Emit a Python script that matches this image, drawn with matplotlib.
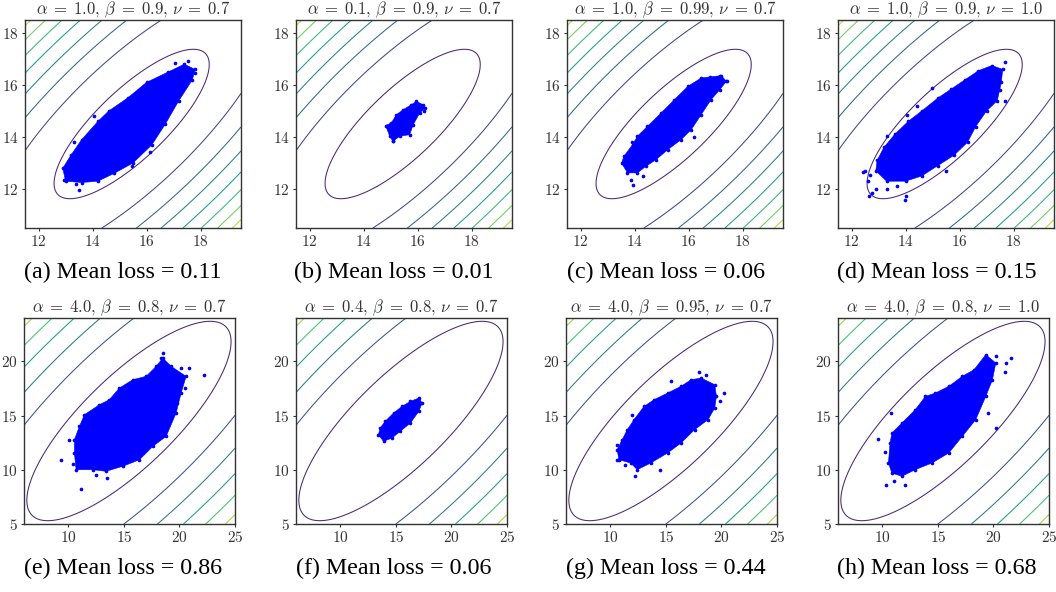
import numpy as np
import matplotlib
matplotlib.use("Agg")
import matplotlib.pyplot as plt
from matplotlib.patches import Polygon
from matplotlib.ticker import FuncFormatter

plt.rcParams["mathtext.fontset"] = "cm"

# panel texts
titles = [
    r"$\alpha\;=\;1.0,\,\beta\;=\;0.9,\,\nu\;=\;0.7$",
    r"$\alpha\;=\;0.1,\,\beta\;=\;0.9,\,\nu\;=\;0.7$",
    r"$\alpha\;=\;1.0,\,\beta\;=\;0.99,\,\nu\;=\;0.7$",
    r"$\alpha\;=\;1.0,\,\beta\;=\;0.9,\,\nu\;=\;1.0$",
    r"$\alpha\;=\;4.0,\,\beta\;=\;0.8,\,\nu\;=\;0.7$",
    r"$\alpha\;=\;0.4,\,\beta\;=\;0.8,\,\nu\;=\;0.7$",
    r"$\alpha\;=\;4.0,\,\beta\;=\;0.95,\,\nu\;=\;0.7$",
    r"$\alpha\;=\;4.0,\,\beta\;=\;0.8,\,\nu\;=\;1.0$",
]
letters = ["a", "b", "c", "d", "e", "f", "g", "h"]
mean_loss = [0.11, 0.01, 0.06, 0.15, 0.86, 0.06, 0.44, 0.68]

# loss surface: f = v^2 + k*u^2 in coordinates rotated by 45 degrees
center = (15.45, 14.5)
k_major = 0.114
row_xlim = [(11.5, 19.5), (6, 25)]
row_ylim = [(10.5, 18.5), (5, 24)]
row_xticks = [[12, 14, 16, 18], [10, 15, 20, 25]]
row_yticks = [[12, 14, 16, 18], [5, 10, 15, 20]]
row_levels = [
    [1.69, 5.68, 9.55, 13.45, 17.65, 21.75, 25.85, 29.9, 34.0],
    [17.3, 46.5, 75.5, 105.0, 135.0, 165.4, 195.5],
]

# sample clouds: outline of the dense part, plus stray points
cloud_a = [(12.9, 12.8), (13.0, 12.3), (13.6, 12.25), (14.2, 12.3), (14.8, 12.6), (15.5, 13.0),
           (16.2, 13.7), (16.7, 14.5), (17.2, 15.4), (17.7, 16.2), (17.8, 16.6), (17.4, 16.8),
           (16.8, 16.5), (16.0, 16.1), (15.3, 15.5), (14.6, 15.0), (14.2, 14.6), (13.6, 13.9),
           (13.2, 13.3)]
extra_a = [(12.94, 12.34), (13.5, 11.96), (13.4, 12.18), (17.05, 16.83), (17.52, 16.92),
           (17.79, 16.47), (14.07, 14.82), (13.31, 13.8), (16.13, 13.42), (15.46, 12.9)]

cloud_b = [(14.82, 14.44), (14.97, 14.03), (15.09, 13.83), (15.34, 14.03), (15.71, 14.09),
           (15.84, 14.47), (16.08, 14.92), (16.29, 15.12), (16.21, 15.24), (15.96, 15.37),
           (15.77, 15.24), (15.47, 15.05), (15.22, 14.86), (15.03, 14.54)]
extra_b = [(16.25, 15.0), (15.1, 13.85)]

cloud_c = [(13.52, 13.0), (13.74, 12.62), (14.11, 12.62), (14.42, 12.87), (14.8, 13.13),
           (15.23, 13.51), (15.73, 13.9), (16.1, 14.28), (16.47, 14.86), (16.84, 15.44),
           (17.16, 15.82), (17.4, 16.14), (17.22, 16.36), (16.78, 16.31), (16.47, 16.27),
           (15.98, 15.95), (15.48, 15.44), (14.98, 14.92), (14.48, 14.41), (14.11, 14.03),
           (13.93, 13.71), (13.61, 13.26)]
extra_c = [(13.93, 12.17), (13.86, 12.36), (13.68, 12.87), (17.16, 16.33), (17.43, 16.14),
           (14.3, 12.5), (13.9, 13.8), (16.9, 16.0), (16.2, 14.0)]

cloud_d = [(12.9, 12.7), (13.3, 12.3), (14.0, 12.3), (14.6, 12.5), (15.2, 12.9), (15.8, 13.3),
           (16.3, 13.8), (16.6, 14.4), (17.0, 15.0), (17.4, 15.4), (17.55, 16.1), (17.6, 16.6),
           (17.2, 16.75), (16.7, 16.55), (16.2, 16.2), (15.7, 15.85), (15.2, 15.5), (14.6, 15.0),
           (14.1, 14.6), (13.6, 14.1), (13.2, 13.6), (12.95, 13.1)]
extra_d = [(12.43, 12.64), (12.5, 12.7), (12.64, 11.72), (12.75, 11.85), (12.6, 12.3),
           (12.9, 12.0), (13.3, 12.0), (13.98, 11.59), (14.0, 11.75), (13.7, 12.1),
           (12.7, 12.55), (14.97, 15.88), (14.41, 15.21), (14.04, 14.86), (17.69, 16.87),
           (17.51, 15.82), (17.7, 15.4), (13.3, 14.05), (15.5, 12.7)]

cloud_e = [(10.54, 11.55), (10.69, 10.01), (12.19, 10.01), (13.39, 9.86), (14.89, 10.32),
           (16.4, 10.93), (17.6, 12.16), (18.8, 13.08), (19.7, 15.24), (20.15, 17.08),
           (20.6, 18.62), (19.25, 19.54), (18.5, 20.3), (17.9, 19.54), (17.0, 18.62),
           (15.8, 18.31), (14.59, 17.54), (13.69, 16.47), (12.79, 16.0), (11.44, 15.08),
           (10.99, 14.0), (10.54, 12.78)]
extra_e = [(9.34, 10.87), (11.14, 8.26), (13.45, 9.24), (10.09, 12.72), (22.25, 18.77),
           (20.9, 19.39), (20.15, 19.39), (18.35, 20.31), (18.5, 20.8), (10.4, 10.5),
           (12.5, 9.5), (20.5, 17.5), (19.8, 16.2)]

cloud_f = [(13.42, 13.24), (13.88, 12.62), (14.64, 12.93), (15.39, 13.55), (16.3, 14.31),
           (17.06, 15.39), (17.36, 16.16), (17.06, 16.62), (16.3, 16.31), (15.55, 15.85),
           (14.79, 15.24), (14.03, 14.47), (13.58, 13.85)]
extra_f = []

cloud_g = [(10.61, 11.86), (10.76, 10.93), (11.82, 10.63), (12.42, 10.01), (13.64, 10.63),
           (15.15, 11.55), (16.36, 12.47), (17.58, 13.7), (18.79, 14.62), (19.39, 15.7),
           (19.55, 16.77), (19.39, 17.85), (18.18, 18.46), (17.27, 18.31), (16.36, 17.7),
           (15.15, 17.08), (13.94, 16.47), (13.03, 15.85), (12.12, 14.62), (11.52, 13.7),
           (11.06, 12.78)]
extra_g = [(10.61, 12.25), (12.18, 9.46), (14.48, 9.95), (15.45, 18.22), (17.94, 18.99),
           (20.24, 17.08), (11.97, 15.08), (10.61, 10.93), (11.3, 10.4), (19.9, 16.3),
           (18.6, 18.7)]

cloud_h = [(10.69, 12.47), (10.54, 10.63), (10.85, 9.7), (11.75, 9.4), (12.96, 10.01),
           (14.47, 10.63), (15.98, 11.55), (17.19, 13.08), (18.4, 14.62), (19.31, 16.77),
           (19.91, 18.31), (20.21, 19.85), (19.31, 20.62), (18.25, 19.23), (17.19, 18.62),
           (15.98, 17.7), (14.77, 17.08), (13.87, 16.77), (12.96, 15.54), (11.75, 14.31),
           (10.85, 13.39)]
extra_h = [(9.58, 12.84), (10.79, 15.24), (10.33, 8.63), (12.05, 8.63), (20.21, 13.85),
           (21.57, 20.31), (21.12, 19.85), (20.21, 20.46), (10.2, 11.6), (11.0, 9.0),
           (19.5, 15.2), (21.0, 19.0)]

clouds = [cloud_a, cloud_b, cloud_c, cloud_d, cloud_e, cloud_f, cloud_g, cloud_h]
extras = [extra_a, extra_b, extra_c, extra_d, extra_e, extra_f, extra_g, extra_h]

# layout (pixels in a 1056x592 figure)
W, H = 1056, 592
col_left = [[25, 296, 567, 838], [24, 296, 566, 838]]
col_width = [216, 211]
row_top = [20, 318]
row_height = [208, 206]
caption_x = [123, 394, 666, 937]
caption_y = [272, 568]

fig = plt.figure(figsize=(W / 100, H / 100), dpi=100)
tick_fmt = FuncFormatter(lambda v, p: f"${v:g}$")
text_gray = "#333333"

for i in range(8):
    r, c = divmod(i, 4)
    ax = fig.add_axes([col_left[r][c] / W, 1 - (row_top[r] + row_height[r]) / H,
                       col_width[r] / W, row_height[r] / H])

    x0, x1 = row_xlim[r]
    y0, y1 = row_ylim[r]
    xs = np.linspace(x0, x1, 400)
    ys = np.linspace(y0, y1, 400)
    X, Y = np.meshgrid(xs, ys)
    dx, dy = X - center[0], Y - center[1]
    u = (dx + dy) / np.sqrt(2)
    v = (dy - dx) / np.sqrt(2)
    Z = v**2 + k_major * u**2
    levels = row_levels[r]
    line_colors = plt.cm.viridis(np.linspace(0.11, 1.0, len(levels)))
    ax.contour(X, Y, Z, levels=levels, colors=line_colors, linewidths=0.75, zorder=1)

    ax.add_patch(Polygon(clouds[i], closed=True, facecolor="#0000ff",
                         edgecolor="#0000ff", linewidth=0.4, zorder=3))
    pts = np.array(clouds[i] + extras[i])
    ax.scatter(pts[:, 0], pts[:, 1], s=7, color="#0000ff", linewidths=0, zorder=4)

    ax.set_xlim(x0, x1)
    ax.set_ylim(y0, y1)
    ax.set_xticks(row_xticks[r])
    ax.set_yticks(row_yticks[r])
    ax.xaxis.set_major_formatter(tick_fmt)
    ax.yaxis.set_major_formatter(tick_fmt)
    ax.tick_params(labelsize=11, colors=text_gray, length=2.5, width=0.8, pad=2)
    for s in ax.spines.values():
        s.set_color(text_gray)
        s.set_linewidth(1.0)
    ax.set_title(titles[i], fontsize=12, color=text_gray, pad=1.5)

    fig.text(caption_x[c] / W, 1 - caption_y[r] / H,
             f"({letters[i]}) Mean loss = {mean_loss[i]:.2f}",
             ha="center", va="center", fontsize=17.3, family="Liberation Serif")

fig.savefig("out.png", dpi=100)
